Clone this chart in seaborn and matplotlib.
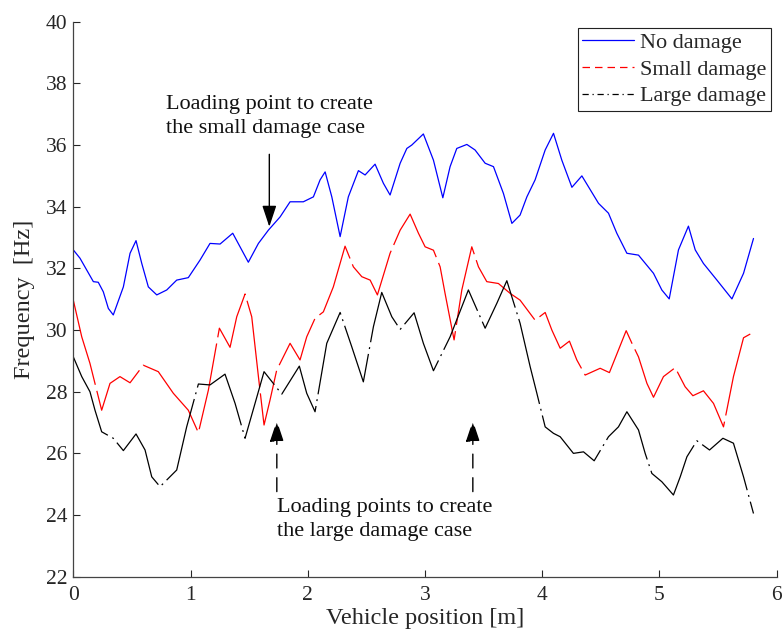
import numpy as np
import pandas as pd
import matplotlib
matplotlib.use("Agg")
import matplotlib.pyplot as plt
import seaborn as sns

# ---------------- data ----------------
x_no = [0.000, 0.057, 0.171, 0.213, 0.256, 0.299, 0.341, 0.427, 0.484, 0.535,
        0.584, 0.640, 0.712, 0.797, 0.882, 0.981, 1.081, 1.166, 1.252, 1.360,
        1.493, 1.579, 1.664, 1.764, 1.849, 1.962, 2.048, 2.105, 2.148, 2.205,
        2.276, 2.346, 2.432, 2.489, 2.574, 2.645, 2.702, 2.788, 2.845, 2.887,
        2.986, 3.072, 3.152, 3.214, 3.271, 3.357, 3.427, 3.513, 3.584, 3.669,
        3.741, 3.811, 3.869, 3.939, 4.025, 4.096, 4.167, 4.253, 4.338, 4.480,
        4.565, 4.636, 4.722, 4.821, 4.949, 5.020, 5.083, 5.162, 5.247, 5.305,
        5.375, 5.490, 5.618, 5.717, 5.802]
y_no = [32.60, 32.33, 31.57, 31.55, 31.24, 30.70, 30.49, 31.40, 32.49, 32.90,
        32.16, 31.40, 31.14, 31.30, 31.62, 31.70, 32.27, 32.81, 32.79, 33.14,
        32.20, 32.81, 33.24, 33.67, 34.16, 34.16, 34.32, 34.87, 35.13, 34.32,
        33.03, 34.32, 35.17, 35.03, 35.38, 34.76, 34.38, 35.41, 35.89, 36.00,
        36.36, 35.51, 34.29, 35.30, 35.89, 36.02, 35.84, 35.41, 35.30, 34.43,
        33.46, 33.73, 34.32, 34.87, 35.84, 36.38, 35.51, 34.63, 35.00, 34.11,
        33.79, 33.14, 32.49, 32.43, 31.84, 31.30, 31.01, 32.60, 33.37, 32.60,
        32.16, 31.62, 31.01, 31.84, 32.97]

x_small = [0.000, 0.072, 0.142, 0.242, 0.313, 0.398, 0.484, 0.597, 0.725, 0.853,
           0.981, 1.067, 1.152, 1.246, 1.337, 1.394, 1.465, 1.522, 1.579, 1.627,
           1.678, 1.735, 1.849, 1.934, 1.991, 2.062, 2.133, 2.218, 2.318, 2.389,
           2.461, 2.532, 2.594, 2.702, 2.788, 2.873, 2.944, 3.001, 3.072, 3.129,
           3.171, 3.248, 3.314, 3.399, 3.456, 3.527, 3.626, 3.726, 3.811, 3.939,
           4.025, 4.082, 4.153, 4.232, 4.295, 4.366, 4.494, 4.573, 4.716, 4.765,
           4.821, 4.893, 4.949, 5.034, 5.134, 5.219, 5.285, 5.375, 5.461, 5.546,
           5.631, 5.717, 5.802]
y_small = [30.97, 29.78, 28.92, 27.40, 28.27, 28.49, 28.29, 28.86, 28.65, 27.95,
           27.40, 26.67, 28.05, 30.06, 29.44, 30.43, 31.17, 30.43, 28.49, 26.92,
           27.73, 28.70, 29.57, 29.03, 29.78, 30.38, 30.59, 31.40, 32.72, 32.05,
           31.73, 31.62, 31.14, 32.49, 33.24, 33.76, 33.14, 32.70, 32.59, 32.05,
           31.19, 29.68, 31.30, 32.70, 32.05, 31.57, 31.51, 31.19, 30.97, 30.32,
           30.57, 30.00, 29.41, 29.64, 29.03, 28.54, 28.76, 28.62, 29.98, 29.57,
           29.13, 28.27, 27.82, 28.49, 28.78, 28.16, 27.87, 28.03, 27.62, 26.86,
           28.49, 29.75, 29.93]

x_large = [0.000, 0.072, 0.142, 0.185, 0.242, 0.341, 0.427, 0.535, 0.612, 0.669,
           0.740, 0.882, 0.967, 1.067, 1.166, 1.294, 1.380, 1.465, 1.550, 1.627,
           1.706, 1.778, 1.928, 1.991, 2.062, 2.162, 2.276, 2.375, 2.474, 2.560,
           2.631, 2.717, 2.788, 2.907, 2.986, 3.072, 3.214, 3.370, 3.513, 3.613,
           3.698, 3.811, 3.897, 3.954, 4.025, 4.096, 4.153, 4.266, 4.352, 4.443,
           4.565, 4.650, 4.722, 4.821, 4.878, 4.935, 5.020, 5.119, 5.177, 5.234,
           5.319, 5.427, 5.541, 5.631, 5.717, 5.802]
y_large = [29.13, 28.49, 28.00, 27.40, 26.70, 26.49, 26.09, 26.63, 26.11, 25.24,
           24.92, 25.46, 26.86, 28.25, 28.22, 28.57, 27.62, 26.49, 27.62, 28.65,
           28.27, 27.92, 28.83, 27.95, 27.35, 29.57, 30.57, 29.46, 28.32, 30.11,
           31.22, 30.43, 30.02, 30.56, 29.57, 28.68, 29.78, 31.30, 30.06, 30.87,
           31.60, 30.22, 28.81, 27.95, 26.86, 26.65, 26.54, 26.00, 26.05, 25.76,
           26.54, 26.86, 27.35, 26.76, 26.00, 25.35, 25.08, 24.65, 25.24, 25.89,
           26.41, 26.11, 26.49, 26.33, 25.24, 24.05]

cases = ["No damage", "Small damage", "Large damage"]
x_ticks = [0, 1, 2, 3, 4, 5, 6]
y_ticks = [22, 24, 26, 28, 30, 32, 34, 36, 38, 40]

# ---------------- figure ----------------
sns.set_style("ticks")
plt.rcParams["font.family"] = ["Liberation Serif", "DejaVu Serif"]

df = pd.concat([
    pd.DataFrame({"pos": x_no, "freq": y_no, "case": cases[0]}),
    pd.DataFrame({"pos": x_small, "freq": y_small, "case": cases[1]}),
    pd.DataFrame({"pos": x_large, "freq": y_large, "case": cases[2]}),
], ignore_index=True)

fig = plt.figure(figsize=(7.84, 6.41), dpi=100)
ax = fig.add_axes([0.0935, 0.1003, 0.8972, 0.8658])

palette = {cases[0]: "#0000ff", cases[1]: "#ff0000", cases[2]: "#000000"}
dashes = {cases[0]: "", cases[1]: (70, 5), cases[2]: (70, 4, 1.5, 4)}

sns.lineplot(data=df, x="pos", y="freq", hue="case", style="case",
             hue_order=cases, style_order=cases,
             palette=palette, dashes=dashes, estimator=None, sort=False,
             linewidth=0.9, ax=ax, legend=False)
for ln in ax.get_lines():
    ln.set_solid_joinstyle("round")
    ln.set_dash_joinstyle("round")

ax.set_xlim(0, 6)
ax.set_ylim(22, 40)
ax.set_xticks(x_ticks)
ax.set_yticks(y_ticks)
ax.set_xlabel("Vehicle position [m]", fontsize=17.5, color="#262626", labelpad=2)
ax.set_ylabel("Frequency  [Hz]", fontsize=17.5, color="#262626", labelpad=8)
ax.tick_params(direction="in", length=5, width=0.8, labelsize=15.5,
               colors="#262626")
ax.tick_params(axis="x", pad=7)
ax.tick_params(axis="y", pad=4)
for s in ["top", "right"]:
    ax.spines[s].set_visible(False)
for s in ["left", "bottom"]:
    ax.spines[s].set_color("#444444")
    ax.spines[s].set_linewidth(0.9)

# legend
lines = ax.get_lines()[:3]
leg = ax.legend(lines, cases, loc="upper right", bbox_to_anchor=(0.992, 0.989),
                borderaxespad=0, fontsize=16, frameon=True, fancybox=False,
                edgecolor="#222222", framealpha=1, handlelength=2.3,
                handletextpad=0.3, labelspacing=0.28, borderpad=0.2)
leg.get_frame().set_linewidth(0.8)
leg_styles = ["-", (0, (6, 4)), (0, (5, 3, 1, 3))]
for ln, st in zip(leg.get_lines(), leg_styles):
    ln.set_linestyle(st)

# annotations
ax.text(0.792, 37.62, "Loading point to create\nthe small damage case",
        ha="left", va="top", fontsize=16, linespacing=1.38, color="#111111")
ax.annotate("", xy=(1.672, 33.35), xytext=(1.672, 35.70),
            arrowprops=dict(arrowstyle="-|>,head_length=0.87,head_width=0.29",
                            mutation_scale=15, color="black", lw=1,
                            shrinkA=0, shrinkB=0))

for xa in [1.736, 3.408]:
    ax.annotate("", xy=(xa, 27.06), xytext=(xa, 24.76),
                arrowprops=dict(arrowstyle="-|>,head_length=0.87,head_width=0.29",
                                mutation_scale=15, color="black", lw=1,
                                linestyle=(0, (10, 7)),
                                shrinkA=0, shrinkB=0))

ax.text(1.741, 24.55, "Loading points to create\nthe large damage case",
        ha="left", va="top", fontsize=16, linespacing=1.38, color="#111111")

fig.savefig("out.png", dpi=100)
